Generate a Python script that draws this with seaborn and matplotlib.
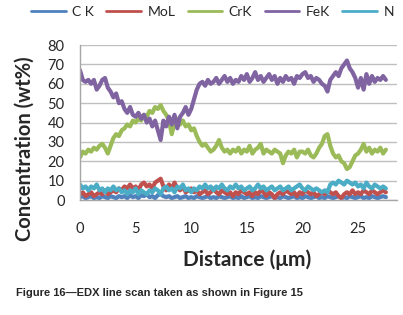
import matplotlib
matplotlib.use('Agg')
import matplotlib.pyplot as plt
from matplotlib.lines import Line2D
import numpy as np
import pandas as pd
import seaborn as sns

# EDX line scan (wt%)
distance = [
    0.0, 0.25, 0.5, 0.75, 1.0, 1.25, 1.5, 1.75, 2.0, 2.25,
    2.5, 2.75, 3.0, 3.25, 3.5, 3.75, 4.0, 4.25, 4.5, 4.75,
    5.0, 5.25, 5.5, 5.75, 6.0, 6.25, 6.5, 6.75, 7.0, 7.25,
    7.5, 7.75, 8.0, 8.25, 8.5, 8.75, 9.0, 9.25, 9.5, 9.75,
    10.0, 10.25, 10.5, 10.75, 11.0, 11.25, 11.5, 11.75, 12.0, 12.25,
    12.5, 12.75, 13.0, 13.25, 13.5, 13.75, 14.0, 14.25, 14.5, 14.75,
    15.0, 15.25, 15.5, 15.75, 16.0, 16.25, 16.5, 16.75, 17.0, 17.25,
    17.5, 17.75, 18.0, 18.25, 18.5, 18.75, 19.0, 19.25, 19.5, 19.75,
    20.0, 20.25, 20.5, 20.75, 21.0, 21.25, 21.5, 21.75, 22.0, 22.25,
    22.5, 22.75, 23.0, 23.25, 23.5, 23.75, 24.0, 24.25, 24.5, 24.75,
    25.0, 25.25, 25.5, 25.75, 26.0, 26.25, 26.5, 26.75, 27.0, 27.25,
    27.5,
]

ck = [
    1.5, 2, 1, 1.5, 2, 1, 1.5, 1, 2, 1.5,
    1, 2, 1.5, 1, 2, 1.5, 2, 1, 2.5, 1.5,
    2, 1, 2.5, 2, 3, 1.5, 2, 1, 2.5, 3,
    2, 1.5, 2, 1, 1.5, 2, 1, 1.5, 2, 1,
    1.5, 1, 2, 1.5, 1, 1.5, 2, 1, 1.5, 1,
    2, 1.5, 1, 1.5, 2, 1, 1.5, 1, 2, 1,
    1.5, 2, 1, 1.5, 1, 2, 1.5, 1, 1.5, 2,
    1, 1.5, 1, 2, 1.5, 1, 1.5, 2, 1, 1.5,
    1, 2, 1.5, 1, 1.5, 2, 1, 1.5, 1, 2,
    1.5, 1, 1.5, 2, 1, 1.5, 1, 2, 1.5, 1,
    1.5, 2, 1, 1.5, 1, 2, 1.5, 1, 1.5, 2,
    1.5,
]

mol = [
    3, 4, 2, 3, 4, 2, 3, 4, 3, 5,
    3, 4, 5, 4, 6, 5, 7, 6, 8, 6,
    7, 5, 8, 9, 7, 8, 6, 9, 10, 11,
    7, 5, 8, 6, 9, 6, 5, 7, 4, 5,
    6, 4, 5, 3, 4, 5, 3, 4, 6, 4,
    3, 5, 4, 3, 4, 2, 4, 3, 5, 4,
    3, 4, 2, 4, 3, 5, 4, 2, 4, 3,
    1, 3, 4, 3, 5, 4, 3, 4, 2, 4,
    3, 5, 4, 3, 4, 2, 3, 4, 3, 5,
    4, 3, 4, 2, 1, 3, 4, 3, 5, 3,
    4, 3, 5, 4, 3, 5, 4, 3, 4, 5,
    4,
]

crk = [
    22, 25, 24, 26, 25, 27, 26, 28, 29, 27,
    24, 28, 32, 34, 33, 36, 37, 39, 38, 41,
    40, 42, 41, 44, 43, 46, 45, 48, 47, 49,
    46, 44, 41, 34, 40, 42, 39, 41, 38, 39,
    36, 37, 33, 30, 28, 29, 27, 25, 26, 28,
    31, 27, 25, 26, 24, 26, 25, 27, 24, 26,
    25, 28, 24, 26, 27, 29, 24, 26, 25, 24,
    26, 25, 24, 19, 23, 25, 24, 26, 22, 25,
    25, 24, 26, 23, 22, 24, 27, 29, 33, 34,
    28, 24, 22, 23, 20, 19, 16, 17, 20, 23,
    24, 26, 29, 25, 27, 24, 26, 25, 27, 24,
    26,
]

fek = [
    67, 62, 61, 62, 60, 62, 57, 59, 62, 63,
    58, 56, 53, 55, 50, 51, 47, 45, 48, 44,
    43, 45, 42, 44, 40, 42, 38, 41, 36, 31,
    41, 38, 43, 39, 44, 37, 43, 45, 48, 44,
    47, 52, 57, 60, 61, 59, 62, 60, 61, 63,
    60, 62, 64, 61, 63, 60, 62, 61, 64, 62,
    65, 61, 63, 66, 62, 64, 61, 63, 65, 62,
    64, 60, 63, 61, 64, 62, 63, 60, 64, 63,
    65, 66, 63, 64, 61, 63, 62, 60, 59, 56,
    62, 64, 66, 64, 68, 70, 72, 68, 66, 63,
    58, 63, 57, 65, 60, 64, 61, 63, 62, 64,
    62,
]

n_k = [
    8, 6, 7, 5, 7, 6, 8, 5, 6, 4,
    6, 5, 7, 5, 6, 4, 5, 3, 5, 4,
    6, 3, 5, 4, 3, 5, 4, 6, 5, 3,
    6, 7, 5, 6, 4, 7, 6, 8, 5, 6,
    4, 6, 5, 7, 6, 8, 6, 7, 5, 7,
    6, 8, 6, 5, 7, 6, 8, 6, 7, 5,
    6, 7, 5, 6, 8, 6, 7, 5, 6, 7,
    5, 6, 7, 5, 6, 7, 5, 6, 7, 8,
    6, 5, 7, 6, 5, 6, 5, 4, 5, 4,
    8, 9, 8, 10, 9, 8, 10, 9, 8, 9,
    7, 8, 6, 9, 7, 6, 8, 7, 6, 7,
    6,
]

elements = ['C K', 'MoL', 'CrK', 'FeK', 'N']
colors = ['#4F81BD', '#C0504D', '#9BBB59', '#8064A2', '#4BACC6']

df = pd.DataFrame({'Distance': distance, 'C K': ck, 'MoL': mol,
                   'CrK': crk, 'FeK': fek, 'N': n_k})
long_df = df.melt(id_vars='Distance', var_name='element', value_name='wt')

sns.set_style('white')
plt.rcParams['font.family'] = ['Lato', 'DejaVu Sans']

fig = plt.figure(figsize=(4.03, 3.15), dpi=100)
ax = fig.add_axes([0.1985, 0.365, 0.7866, 0.492])

sns.lineplot(data=long_df, x='Distance', y='wt', hue='element',
             hue_order=elements, palette=colors, linewidth=3,
             estimator=None, legend=False, ax=ax)

ax.set_xlim(0, 28.5)
ax.set_ylim(0, 80)
ax.set_xticks([0, 5, 10, 15, 20, 25])
ax.set_yticks(range(0, 81, 10))
ax.yaxis.grid(True, color='#BFBFBF', linewidth=1)
ax.set_axisbelow(True)
for side in ['top', 'right']:
    ax.spines[side].set_visible(False)
for side in ['left', 'bottom']:
    ax.spines[side].set_color('#A6A6A6')
    ax.spines[side].set_linewidth(1)
ax.tick_params(axis='x', direction='out', length=4, color='#A6A6A6',
               pad=12, labelsize=10.5)
ax.tick_params(axis='y', direction='out', length=4, color='#A6A6A6',
               pad=7, labelsize=10.5)
ax.set_xlabel('')
ax.set_ylabel('')

# legend on top
handles = [Line2D([0], [0], color=c, lw=2) for c in colors]
fig.legend(handles, elements, loc='center', bbox_to_anchor=(0.527, 0.962),
           ncol=5, frameon=False, fontsize=10, handlelength=2.5,
           handletextpad=0.45, columnspacing=0.9, borderpad=0.1)

fig.text(25 / 403, 1 - 149 / 315, 'Concentration (wt%)', rotation=90,
         fontsize=14.5, fontweight='bold', ha='center', va='center')
fig.text(247 / 403, 1 - 260 / 315, 'Distance (μm)', fontsize=15,
         fontweight='bold', ha='center', va='center')
fig.text(16 / 403, 1 - 293 / 315,
         'Figure 16\u2014EDX line scan taken as shown in Figure 15',
         family='Liberation Sans', fontweight='bold', fontsize=8,
         ha='left', va='center')

fig.savefig('out.png', dpi=100)
